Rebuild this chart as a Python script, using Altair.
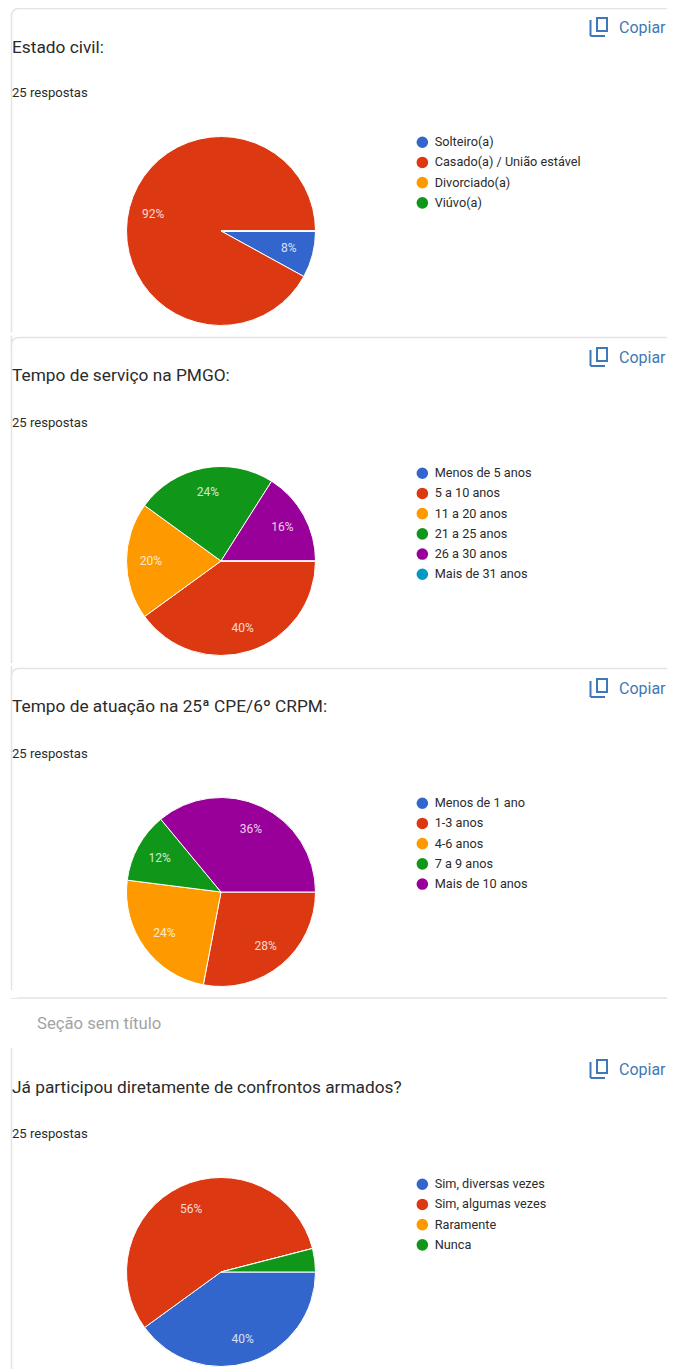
import math
import altair as alt
import pandas as pd

FONT = "Roboto"
TEXT = "#2b2b2b"
LINE = "#e3e3e3"
ACCENT = "#3f78b8"

titles = ["Estado civil:", "Tempo de serviço na PMGO:", "Tempo de atuação na 25ª CPE/6º CRPM:",
          "Já participou diretamente de confrontos armados?"]
responses = "25 respostas"
cats_1 = ["Solteiro(a)", "Casado(a) / União estável", "Divorciado(a)", "Viúvo(a)"]
vals_1 = [8, 92, 0, 0]
labs_1 = ["8%", "92%", "", ""]
cols_1 = ["#3366cc", "#dc3912", "#ff9900", "#109618"]
cats_2 = ["Menos de 5 anos", "5 a 10 anos", "11 a 20 anos", "21 a 25 anos", "26 a 30 anos", "Mais de 31 anos"]
vals_2 = [0, 40, 20, 24, 16, 0]
labs_2 = ["", "40%", "20%", "24%", "16%", ""]
cols_2 = ["#3366cc", "#dc3912", "#ff9900", "#109618", "#990099", "#0099c6"]
cats_3 = ["Menos de 1 ano", "1-3 anos", "4-6 anos", "7 a 9 anos", "Mais de 10 anos"]
vals_3 = [0, 28, 24, 12, 36]
labs_3 = ["", "28%", "24%", "12%", "36%"]
cols_3 = ["#3366cc", "#dc3912", "#ff9900", "#109618", "#990099"]
cats_4 = ["Sim, diversas vezes", "Sim, algumas vezes", "Raramente", "Nunca"]
vals_4 = [40, 56, 0, 4]
labs_4 = ["40%", "56%", "", ""]
cols_4 = ["#3366cc", "#dc3912", "#ff9900", "#109618"]

ONE = pd.DataFrame({"a": [0]})
W, H = 659, 1361


def X(v):
    return v - 8


def Y(v):
    return v - 8


def txt(s, x, y, size, color=TEXT):
    return alt.Chart(ONE).mark_text(align="left", baseline="middle", font=FONT, fontSize=size, color=color).encode(
        x=alt.value(X(x)), y=alt.value(Y(y)), text=alt.value(s))


def hline(x1, x2, y, color=LINE, w=1.5):
    return alt.Chart(ONE).mark_rule(color=color, strokeWidth=w).encode(
        x=alt.value(X(x1)), x2=alt.value(X(x2)), y=alt.value(Y(y)))


def vline(x, y1, y2, color=LINE, w=1.5):
    return alt.Chart(ONE).mark_rule(color=color, strokeWidth=w).encode(
        x=alt.value(X(x)), y=alt.value(Y(y1)), y2=alt.value(Y(y2)))


def card(y1, y2):
    return alt.Chart(ONE).mark_rect(fill="white", stroke=LINE, strokeWidth=1.5, cornerRadiusTopLeft=7).encode(
        x=alt.value(X(11.5)), x2=alt.value(X(700)), y=alt.value(Y(y1)), y2=alt.value(Y(y2)))


def panel(title, cats, vals, labs, cols, title_y, resp_y, copy_y, cy, leg_y):
    df = pd.DataFrame({"cat": cats, "val": vals, "lab": labs, "ord": list(range(len(cats)))})
    theta = alt.Theta("val:Q", stack=True,
                      scale=alt.Scale(domain=[0, 100], range=[math.pi / 2, math.pi / 2 + 2 * math.pi]))
    color = alt.Color("cat:N", scale=alt.Scale(domain=cats, range=cols), sort=cats,
                      legend=alt.Legend(title=None, orient="none", legendX=X(416), legendY=Y(leg_y),
                                        symbolType="circle", symbolSize=135, symbolStrokeWidth=0,
                                        labelFont=FONT, labelFontSize=12.7, labelColor=TEXT,
                                        rowPadding=5.2, labelOffset=6, clipHeight=14.5, labelLimit=260))
    arc = alt.Chart(df).mark_arc(radius=94.5, stroke="white", strokeWidth=1).encode(
        theta=theta, color=color, order=alt.Order("ord:Q"),
        x=alt.value(X(221)), y=alt.value(Y(cy)))
    lab = alt.Chart(df).mark_text(radius=70, font=FONT, fontSize=12, color="#ffffff", opacity=0.8).encode(
        theta=theta, detail="cat:N", order=alt.Order("ord:Q"), text="lab:N",
        x=alt.value(X(221)), y=alt.value(Y(cy)))
    icon = [
        alt.Chart(ONE).mark_rect(fill="transparent", stroke=ACCENT, strokeWidth=2).encode(
            x=alt.value(X(597)), x2=alt.value(X(607)), y=alt.value(Y(copy_y - 9)), y2=alt.value(Y(copy_y + 4))),
        vline(590.5, copy_y - 7, copy_y + 9, ACCENT, 2),
        hline(590.5, 605, copy_y + 9, ACCENT, 2),
    ]
    return [arc, lab, txt(title, 12, title_y + 0.7, 17.3), txt(responses, 12, resp_y + 0.8, 13.1),
            txt("Copiar", 619, copy_y + 0.8, 16, ACCENT)] + icon


frames = [
    card(8.5, 350), hline(0, 700, 334, "white", 3),
    card(337.5, 680), hline(0, 700, 664.5, "white", 3),
    card(668.5, 998), hline(0, 17, 994, "white", 8),
    vline(11.5, 1048, 1369),
    txt("Seção sem título", 37, 1023.5, 16.7, "#a3a3a3"),
]
p1 = panel(titles[0], cats_1, vals_1, labs_1, cols_1, 47, 92, 27, 231, 135)
p2 = panel(titles[1], cats_2, vals_2, labs_2, cols_2, 375, 422, 357, 561, 466)
p3 = panel(titles[2], cats_3, vals_3, labs_3, cols_3, 706, 753, 688, 892, 796)
p4 = panel(titles[3], cats_4, vals_4, labs_4, cols_4, 1087, 1133, 1069, 1272, 1177)

chart = (alt.layer(*(frames + p1 + p2 + p3 + p4))
         .resolve_scale(color="independent")
         .properties(width=W, height=H, padding=0, background="white",
                     autosize=alt.AutoSizeParams(type="none", contains="padding"))
         .configure_view(stroke=None))
chart.save("out.html", embed_options={"renderer": "svg", "actions": False})
